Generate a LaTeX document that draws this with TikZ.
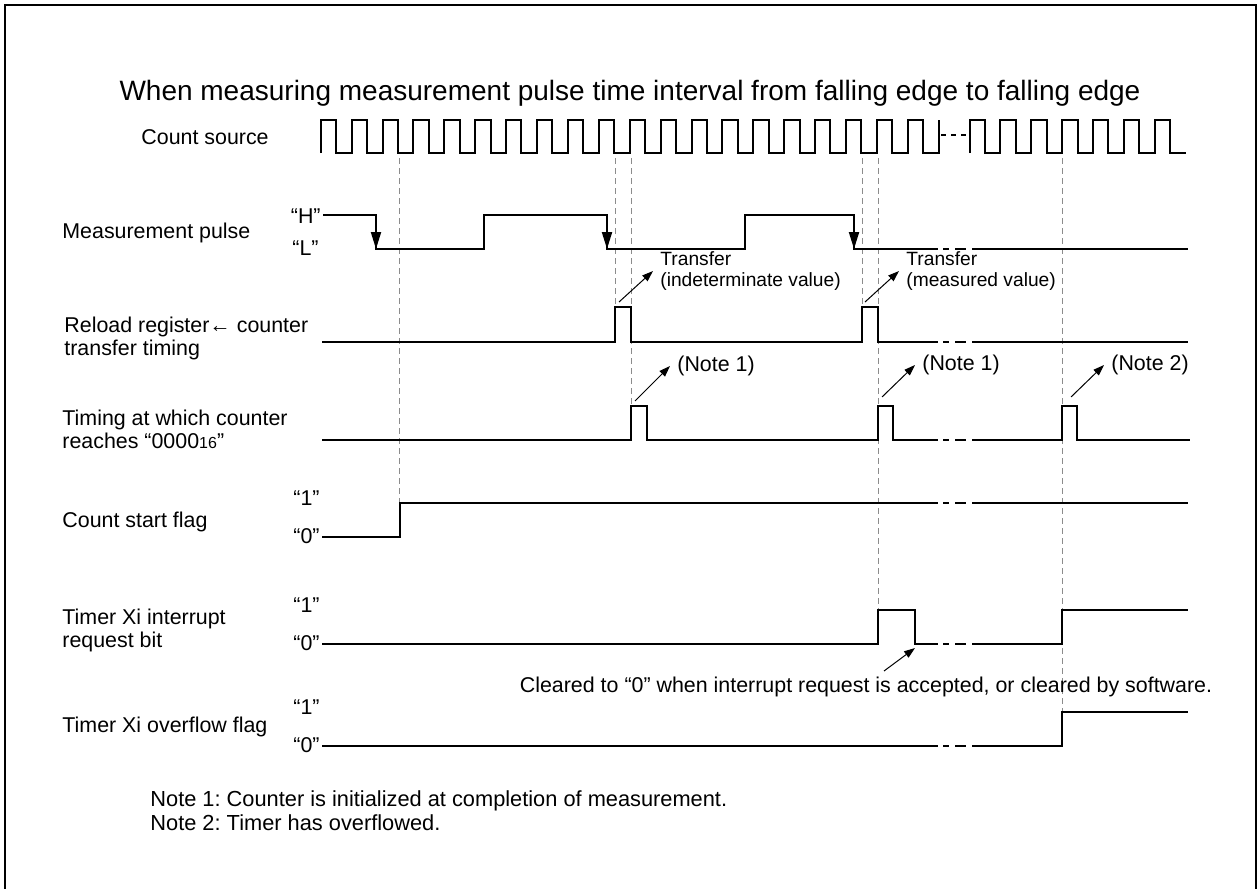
\documentclass[tikz,border=0pt]{standalone}
\usepackage{fontspec}
\setmainfont{Liberation Sans}
\usetikzlibrary{arrows.meta}
\frenchspacing

\begin{document}
\begin{tikzpicture}[
  x=0.5pt,y=-0.5pt,
  font=\fontsize{10.7}{11.4}\selectfont,
  wave/.style={line width=1pt,line join=miter},
  fallarrow/.style={line width=1pt,-{Triangle[length=8.5pt,width=5pt]}},
  callout/.style={line width=0.5pt,-{Triangle[length=5.5pt,width=3.8pt]}},
  vguide/.style={draw=black!45,line width=0.5pt,dash pattern=on 3pt off 2pt},
  brk/.style={line width=1pt,dash pattern=on 3pt off 3pt on 5.5pt off 0pt},
  sig/.style={anchor=base west,align=left,inner sep=0pt},
  lvl/.style={anchor=base east,inner sep=0pt},
  ann/.style={anchor=west,align=left,inner xsep=3.5pt,inner ysep=1pt},
  xfer/.style={ann,font=\fontsize{9.6}{10.5}\selectfont},
  notetext/.style={sig,font=\fontsize{10.9}{11.5}\selectfont},
]
\useasboundingbox (0,0) rectangle (1257,888);
\clip (0,0) rectangle (1257,888);

% ---- frame and title ----
\draw[line width=1.2pt] (5,5) rectangle (1256,900);
\node[font=\fontsize{14}{16}\selectfont,anchor=base] (title) at (630,101)
     {When measuring measurement pulse time interval from falling edge to falling edge};

% ---- signal names (base = last line) ----
\node[sig] (csrc) at (141,144) {Count source};
\node[sig] (mpls) at (62,238) {Measurement pulse};
\node[sig] (rld)  at (64,355) {Reload register← counter\\transfer timing};
\node[sig] (tzero) at (62,448) {Timing at which counter\\reaches “0000{\fontsize{8}{9}\selectfont 16}”};
\node[sig] (csf)  at (62,527) {Count start flag};
\node[sig] (irq)  at (62,647) {Timer Xi interrupt\\request bit};
\node[sig] (ovf)  at (62,732) {Timer Xi overflow flag};

% level marks
\node[lvl] (mH) at (321,223) {“H”};
\node[lvl] (mL) at (319,255) {“L”};
\node[lvl] (cs1) at (320,505) {“1”};
\node[lvl] (cs0) at (320,543) {“0”};
\node[lvl] (ir1) at (320,612) {“1”};
\node[lvl] (ir0) at (320,650) {“0”};
\node[lvl] (ov1) at (320,714) {“1”};
\node[lvl] (ov0) at (320,752) {“0”};

% ---- timing guides ----
\foreach \gx/\gy in {399/503,615/307,631/406,862/307,878/610,1062/712}
  \draw[vguide] (\gx,158) -- (\gx,\gy);

% ---- count source ----
\draw[wave] (321,153) -- (321,120)
  \foreach \k in {0,...,19} {
    -- ({336+30.9*\k},120) -- ({336+30.9*\k},153)
    -- ({351.6+30.9*\k},153) -- ({351.6+30.9*\k},120) };
\draw[wave] (969.5,153)
  \foreach \k in {0,...,6} {
    -- ({969.5+30.9*\k},120) -- ({984.8+30.9*\k},120)
    -- ({984.8+30.9*\k},153) -- ({1000.4+30.9*\k},153) };
\draw[line width=1pt,dash pattern=on 2.5pt off 2.5pt] (941,135) -- (966,135);

% ---- measurement pulse ----
\draw[wave] (323,215) -- (376,215) -- (376,249) -- (484,249) -- (484,215)
  -- (607,215) -- (607,249) -- (745,249) -- (745,215) -- (854,215)
  -- (854,249) -- (938,249);
\draw[wave] (972,249) -- (1188,249);
\draw[brk] (943,249) -- (966,249);
\draw[fallarrow] (376,215) -- (376,249);
\draw[fallarrow] (607,215) -- (607,249);
\draw[fallarrow] (854,215) -- (854,249);

% ---- reload register <- counter transfer ----
\draw[wave] (322,342) -- (615,342) -- (615,307) -- (631,307) -- (631,342)
  -- (862,342) -- (862,307) -- (878,307) -- (878,342) -- (938,342);
\draw[wave] (972,342) -- (1188,342);
\draw[brk] (943,342) -- (966,342);

% ---- counter reaches 0000 ----
\draw[wave] (322,440) -- (631,440) -- (631,406) -- (647,406) -- (647,440)
  -- (878,440) -- (878,406) -- (893,406) -- (893,440) -- (938,440);
\draw[wave] (972,440) -- (1062,440) -- (1062,406) -- (1077,406) -- (1077,440)
  -- (1190,440);
\draw[brk] (943,440) -- (966,440);

% ---- count start flag ----
\draw[wave] (322,537) -- (400,537) -- (400,503) -- (938,503);
\draw[wave] (972,503) -- (1188,503);
\draw[brk] (943,503) -- (966,503);

% ---- interrupt request bit ----
\draw[wave] (322,644) -- (878,644) -- (878,610) -- (915,610) -- (915,644) -- (938,644);
\draw[wave] (972,644) -- (1062,644) -- (1062,610) -- (1188,610);
\draw[brk] (943,644) -- (966,644);

% ---- overflow flag ----
\draw[wave] (322,746) -- (938,746);
\draw[wave] (972,746) -- (1062,746) -- (1062,712) -- (1188,712);
\draw[brk] (943,746) -- (966,746);

% ---- callouts ----
\coordinate (xferAfoot) at (619,302);
\node[xfer] (xferA) at (653,271) {Transfer\\(indeterminate value)};
\draw[callout] (xferAfoot) -- (xferA.west);

\coordinate (xferBfoot) at (865,302);
\node[xfer] (xferB) at (899,271) {Transfer\\(measured value)};
\draw[callout] (xferBfoot) -- (xferB.west);

\coordinate (noteAfoot) at (635,401);
\node[ann] (noteA) at (670,366) {(Note 1)};
\draw[callout] (noteAfoot) -- (noteA.west);

\coordinate (noteBfoot) at (882,397);
\node[ann] (noteB) at (915,365) {(Note 1)};
\draw[callout] (noteBfoot) -- (noteB.west);

\coordinate (noteCfoot) at (1071,397);
\node[ann] (noteC) at (1104,365) {(Note 2)};
\draw[callout] (noteCfoot) -- (noteC.west);

% cleared by acceptance or software
\node[anchor=base] (clr) at (866,692)
     {Cleared to “0” when interrupt request is accepted, or cleared by software.};
\coordinate (clrfoot) at (884,671);
\coordinate (irqdrop) at (915,648);
\draw[callout] (clrfoot) -- (irqdrop);

% ---- notes ----
\node[notetext] (note1) at (150,806)
     {Note 1: Counter is initialized at completion of measurement.};
\node[notetext] (note2) at (150,830)
     {Note 2: Timer has overflowed.};

\end{tikzpicture}
\end{document}
